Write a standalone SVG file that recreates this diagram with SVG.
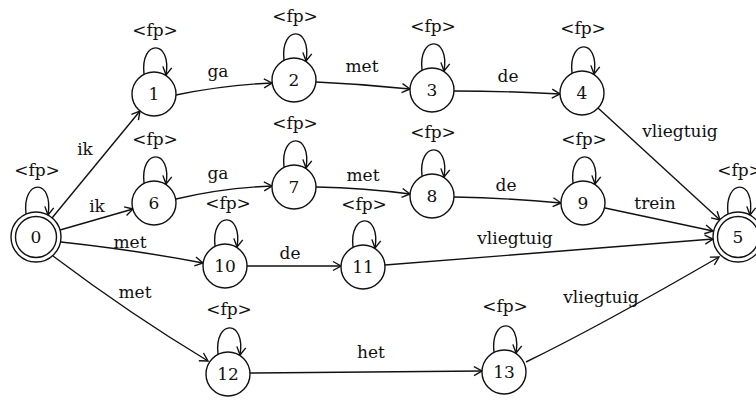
<svg xmlns="http://www.w3.org/2000/svg" width="756" height="400" viewBox="0 0 756 400" font-family="'DejaVu Serif', serif">
  <style>
    text { font-family: 'DejaVu Serif', 'Liberation Serif', serif; font-size: 17px; fill: #111; text-anchor: middle; }
    .st { fill: #fff; stroke: #111; stroke-width: 1.4; }
    .edge { fill: none; stroke: #111; stroke-width: 1.4; marker-end: url(#arr); }
  </style>
  <defs>
    <marker id="arr" markerUnits="userSpaceOnUse" markerWidth="14" markerHeight="14" refX="9" refY="5" orient="auto" viewBox="0 0 14 10">
      <path d="M1,0.5 L9,5 L1,9.5" fill="none" stroke="#111" stroke-width="1.4"/>
    </marker>
  </defs>
  <rect width="756" height="400" fill="#fff"/>

  <!-- transitions between states -->
  <g id="connectors">
    <path class="edge" d="M52,218 L140,111"/>
    <path class="edge" d="M60,230 L133,209"/>
    <path class="edge" d="M61,242 Q135,250 203,263"/>
    <path class="edge" d="M53,256 Q130,314 208,361"/>
    <path class="edge" d="M176,95 Q224,85 272,83"/>
    <path class="edge" d="M316,82 Q363,84 410,89"/>
    <path class="edge" d="M454,91 Q507,91 560,94"/>
    <path class="edge" d="M598,108 L720,220"/>
    <path class="edge" d="M176,199 Q222,188 272,186"/>
    <path class="edge" d="M316,187 Q365,188 410,194"/>
    <path class="edge" d="M454,197 Q508,198 561,203"/>
    <path class="edge" d="M605,208 L713,231"/>
    <path class="edge" d="M247,266 L341,266"/>
    <path class="edge" d="M385,265 L713,239"/>
    <path class="edge" d="M250,373 L482,371"/>
    <path class="edge" d="M526,362 Q600,326 719,257"/>
    <text x="85" y="155">ik</text>
    <text x="97" y="212">ik</text>
    <text x="130" y="248">met</text>
    <text x="135" y="298">met</text>
    <text x="218" y="77">ga</text>
    <text x="362" y="72">met</text>
    <text x="508" y="82">de</text>
    <text x="680" y="137">vliegtuig</text>
    <text x="218" y="179">ga</text>
    <text x="363" y="181">met</text>
    <text x="506" y="191">de</text>
    <text x="655" y="209">trein</text>
    <text x="290" y="259">de</text>
    <text x="515" y="244">vliegtuig</text>
    <text x="371" y="358">het</text>
    <text x="601" y="303">vliegtuig</text>
  </g>

  <!-- start state -->
  <g id="s0">
    <path class="edge" d="M26,214 C22,178 54,178 48,215"/>
    <text x="37" y="176">&lt;fp&gt;</text>
    <circle class="st" cx="36" cy="237" r="25"/>
    <circle class="st" cx="36" cy="237" r="20.5"/>
    <text x="36" y="243">0</text>
  </g>
  <g id="s1">
    <path class="edge" d="M144,74 C140,39 172,39 166,75"/>
    <text x="155" y="36">&lt;fp&gt;</text>
    <circle class="st" cx="154" cy="94" r="22"/>
    <text x="154" y="100">1</text>
  </g>
  <g id="s2">
    <path class="edge" d="M284,60 C280,25 312,25 306,61"/>
    <text x="295" y="22">&lt;fp&gt;</text>
    <circle class="st" cx="294" cy="80" r="22"/>
    <text x="294" y="86">2</text>
  </g>
  <g id="s3">
    <path class="edge" d="M422,70 C418,35 450,35 444,71"/>
    <text x="433" y="32">&lt;fp&gt;</text>
    <circle class="st" cx="432" cy="90" r="22"/>
    <text x="432" y="96">3</text>
  </g>
  <g id="s4">
    <path class="edge" d="M572,73 C568,38 600,38 594,74"/>
    <text x="583" y="34">&lt;fp&gt;</text>
    <circle class="st" cx="582" cy="93" r="22"/>
    <text x="582" y="99">4</text>
  </g>
  <!-- final state -->
  <g id="s5">
    <path class="edge" d="M728,214 C724,178 756,178 750,215"/>
    <text x="740" y="176">&lt;fp&gt;</text>
    <circle class="st" cx="738" cy="237" r="25"/>
    <circle class="st" cx="738" cy="237" r="20.5"/>
    <text x="738" y="243">5</text>
  </g>
  <g id="s6">
    <path class="edge" d="M144,183 C140,148 172,148 166,184"/>
    <text x="155" y="145">&lt;fp&gt;</text>
    <circle class="st" cx="154" cy="203" r="22"/>
    <text x="154" y="209">6</text>
  </g>
  <g id="s7">
    <path class="edge" d="M284,167 C280,132 312,132 306,168"/>
    <text x="295" y="129">&lt;fp&gt;</text>
    <circle class="st" cx="294" cy="187" r="22"/>
    <text x="294" y="193">7</text>
  </g>
  <g id="s8">
    <path class="edge" d="M422,176 C418,141 450,141 444,177"/>
    <text x="433" y="138">&lt;fp&gt;</text>
    <circle class="st" cx="432" cy="196" r="22"/>
    <text x="432" y="202">8</text>
  </g>
  <g id="s9">
    <path class="edge" d="M573,183 C569,148 601,148 595,184"/>
    <text x="584" y="145">&lt;fp&gt;</text>
    <circle class="st" cx="583" cy="203" r="22"/>
    <text x="583" y="209">9</text>
  </g>
  <g id="s10">
    <path class="edge" d="M215,246 C211,211 243,211 237,247"/>
    <text x="228" y="209">&lt;fp&gt;</text>
    <circle class="st" cx="225" cy="266" r="22"/>
    <text x="225" y="272">10</text>
  </g>
  <g id="s11">
    <path class="edge" d="M353,247 C349,212 381,212 375,248"/>
    <text x="364" y="210">&lt;fp&gt;</text>
    <circle class="st" cx="363" cy="267" r="22"/>
    <text x="363" y="273">11</text>
  </g>
  <g id="s12">
    <path class="edge" d="M218,354 C214,319 246,319 240,355"/>
    <text x="229" y="315">&lt;fp&gt;</text>
    <circle class="st" cx="228" cy="374" r="22"/>
    <text x="228" y="380">12</text>
  </g>
  <g id="s13">
    <path class="edge" d="M494,352 C490,317 522,317 516,353"/>
    <text x="505" y="312">&lt;fp&gt;</text>
    <circle class="st" cx="504" cy="372" r="22"/>
    <text x="504" y="378">13</text>
  </g>
</svg>
